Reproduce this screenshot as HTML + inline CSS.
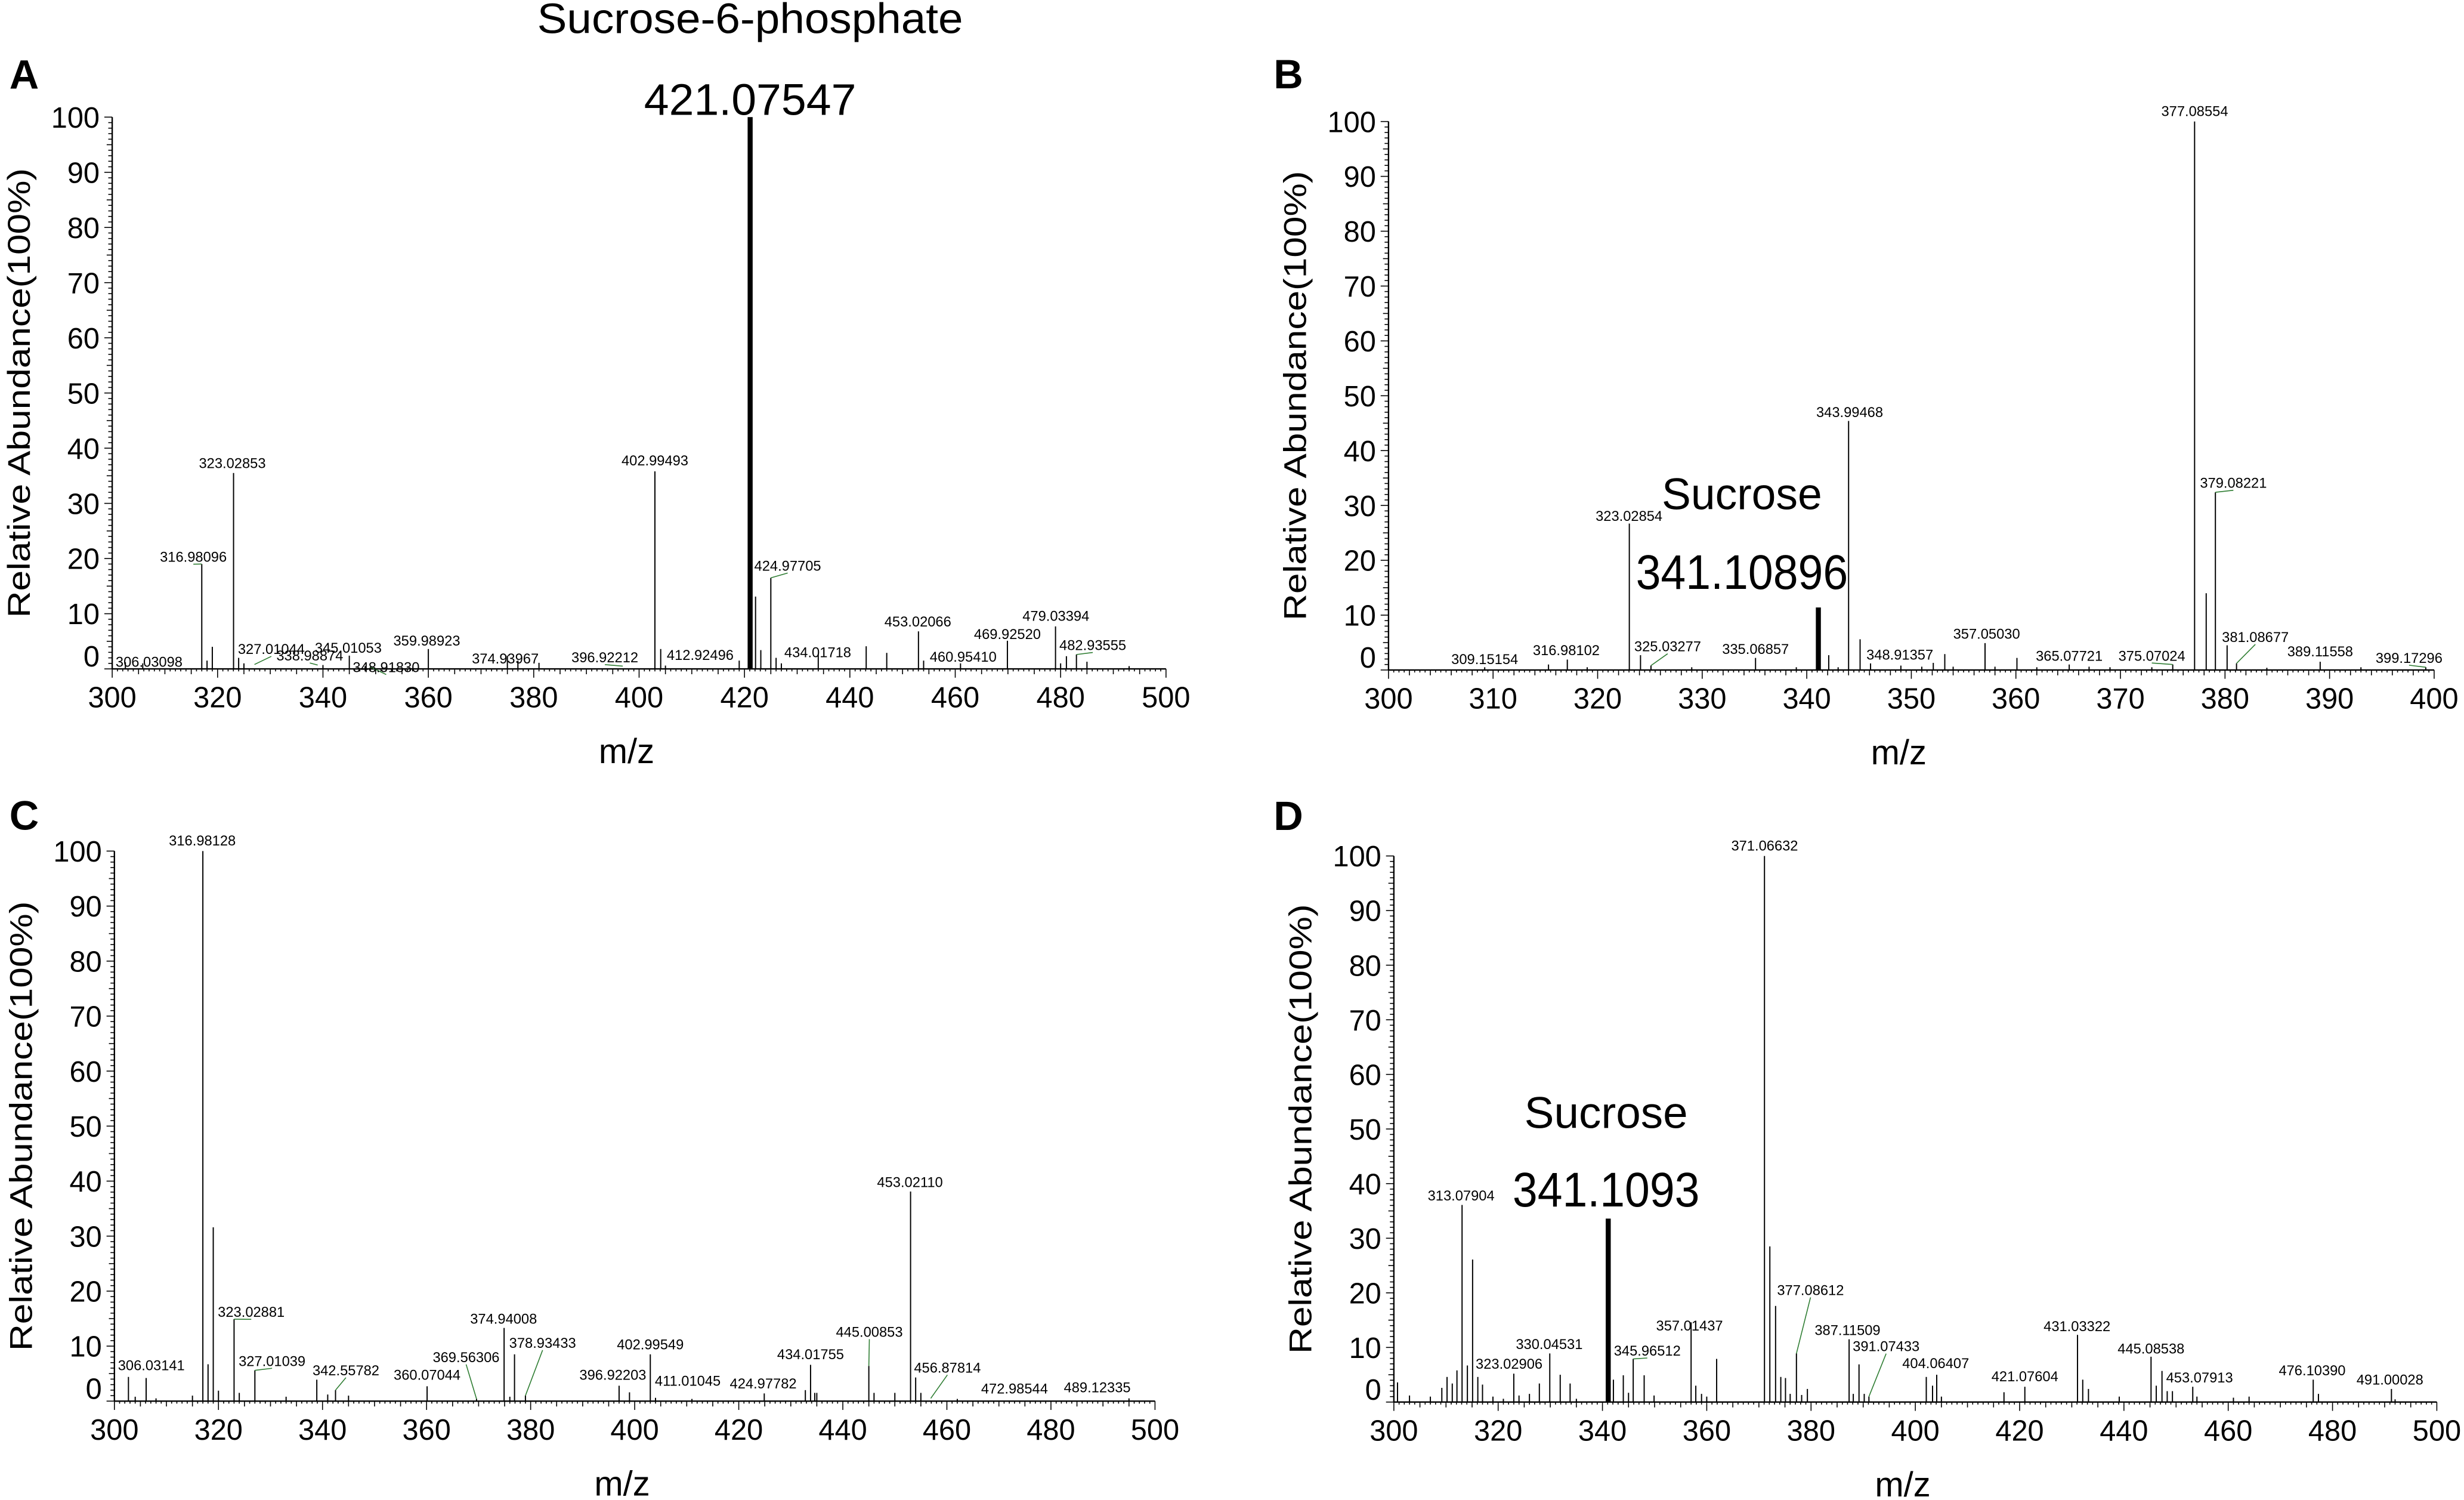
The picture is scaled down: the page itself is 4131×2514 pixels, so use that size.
<!DOCTYPE html>
<html><head><meta charset="utf-8">
<style>
html,body{margin:0;padding:0;background:#fff;}
svg{display:block;}
text{font-family:"Liberation Sans",Arial,sans-serif;fill:#000;}
</style></head>
<body>
<svg id="fig" xmlns="http://www.w3.org/2000/svg" width="4131" height="2514" viewBox="0 0 1568 954.2" preserveAspectRatio="none">
<rect x="0" y="0" width="1568" height="954.2" fill="#fff"/>
</svg>
<script>
// ---------- Panel A data ----------
const mzA  = [302.5,305.8,317.0,318.0,319.0,323.03,324.0,325.0,340.0,345.0,348.0,360.0,375.0,377.0,381.0,403.0,404.1,405.0,419.0,422.1,423.1,425.0,426.0,427.0,434.0,443.1,447.0,453.02,454.0,461.0,469.9,479.03,480.0,481.1,483.0,485.0,493.0];
const intA = [1.2,1.0,19,1.5,4.0,35.5,2.0,1.0,0.7,2.4,0.5,3.6,2.4,1.5,1.1,35.8,3.6,0.6,1.5,13.1,3.4,16.5,2.0,1.0,2.7,4.1,2.9,6.8,1.5,1.0,5.1,7.7,1.0,2.3,2.6,1.3,0.5];
const thickMzA = [421.07547];
const thickIntA = [100];
const labTextA = ["306.03098","316.98096","323.02853","327.01044","338.98874","345.01053","348.91830","359.98923","374.93967","396.92212","402.99493","412.92496","424.97705","434.01718","453.02066","460.95410","469.92520","479.03394","482.93555"];
const labMzA   = [307.0,315.4,322.8,330.2,337.5,344.8,352.0,359.7,374.6,393.5,403.0,411.6,428.2,433.9,452.9,461.5,469.9,479.1,486.1];
const labIntA  = [0.4,19.4,36.4,2.7,1.5,2.9,-0.6,4.2,1.0,1.2,36.9,1.6,17.8,2.1,7.7,1.3,5.4,8.7,3.4];
const peakOfLabA = [306.0,316.98,323.03,327.0,339.0,345.0,348.9,360.0,375.0,396.9,403.0,412.9,425.0,434.0,453.02,461.0,469.9,479.03,483.0];
const peakIntOfLabA = [0.6,19,35.5,0.8,0.7,2.4,0.4,3.6,2.4,0.5,35.8,0.5,16.5,2.7,6.8,1.0,5.1,7.7,2.6];

// ---------- Panel B data ----------
const mzB  = [309.2,315.3,317.1,319.0,323.03,324.1,325.1,329.0,335.1,339.0,342.1,343.0,344.0,345.1,346.1,349.0,351.0,352.1,353.2,354.0,357.05,358.0,360.1,362.0,365.1,367.0,369.0,373.0,375.0,377.09,378.2,379.08,380.2,381.1,384.0,389.1,393.0,399.2];
const intB = [0.5,1.0,1.9,0.5,26.7,2.7,0.8,0.5,2.2,0.5,2.7,0.5,45.4,5.6,1.2,0.8,0.6,1.3,2.9,0.6,4.9,0.6,2.2,0.5,1.0,0.6,0.5,0.5,1.0,100,14,32.4,4.5,1.2,0.4,1.5,0.5,0.5];
const thickMzB = [341.10896];
const thickIntB = [11.4];
const labTextB = ["309.15154","316.98102","323.02854","325.03277","335.06857","343.99468","348.91357","357.05030","365.07721","375.07024","377.08554","379.08221","381.08677","389.11558","399.17296"];
const labMzB   = [309.2,317.0,323.0,326.7,335.1,344.1,348.9,357.2,365.1,373.0,377.1,380.8,382.9,389.1,397.6];
const labIntB  = [1.1,2.7,27.2,3.4,2.9,46.1,1.9,5.7,1.7,1.7,101,33.2,5.1,2.5,1.3];
const peakOfLabB = [309.2,317.1,323.03,325.1,335.1,344.0,348.9,357.05,365.1,375.0,377.09,379.08,381.1,389.1,399.2];
const peakIntOfLabB = [0.5,1.9,26.7,0.8,2.2,45.4,0.8,4.9,1.0,1.0,100,32.4,1.2,1.5,0.5];

// ---------- Panel C data ----------
const mzC  = [302.7,304.0,306.1,308.0,315.0,317.0,318.0,319.0,320.0,323.0,324.0,327.0,333.0,338.9,341.0,342.5,345.0,360.1,369.6,374.9,376.0,376.9,379.0,397.0,399.0,403.0,404.0,411.0,424.9,432.8,433.8,434.6,435.0,445.0,446.0,450.0,453.02,454.0,455.0,462.0,495.0];
const intC = [4.4,0.8,4.2,0.5,1.0,100,6.7,31.6,1.9,14.9,1.5,5.6,0.8,3.9,1.2,2.0,1.0,2.7,0.4,13.3,0.8,8.5,1.0,2.8,1.6,8.5,0.6,0.4,1.4,2.0,6.6,1.5,1.5,6.4,1.5,1.5,38.1,4.3,1.5,0.4,0.5];
const thickMzC = [];
const thickIntC = [];
const labTextC = ["306.03141","316.98128","323.02881","327.01039","342.55782","360.07044","369.56306","374.94008","378.93433","396.92203","402.99549","411.01045","424.97782","434.01755","445.00853","453.02110","456.87814","472.98544","489.12335"];
const labMzC   = [307.1,316.9,326.3,330.3,344.5,360.1,367.6,374.8,382.3,395.8,403.0,410.2,424.7,433.8,445.1,452.9,460.1,473.0,488.9];
const labIntC  = [5.6,101,15.3,6.4,4.7,3.9,7.1,14.1,9.7,3.9,9.4,2.8,2.3,7.6,11.7,38.9,5.2,1.4,1.6];
const peakOfLabC = [306.1,317.0,323.0,327.0,342.5,360.1,369.6,374.9,379.0,397.0,403.0,411.0,424.9,433.8,445.0,453.02,456.9,473.0,489.1];
const peakIntOfLabC = [4.2,100,14.9,5.6,2.0,2.7,0.4,13.3,1.0,2.8,8.5,0.4,1.4,6.6,6.4,38.1,0.5,0.3,0.3];

// ---------- Panel D data ----------
const mzD  = [300.7,303.0,307.0,309.2,310.2,311.2,312.1,313.08,314.1,315.1,316.1,317.0,319.0,321.0,323.0,324.0,326.0,327.9,329.9,331.9,333.8,335.0,342.1,344.0,345.0,345.9,348.0,349.9,357.0,357.9,359.0,360.0,361.9,371.07,372.1,373.2,374.2,375.1,376.0,377.2,378.2,379.3,387.3,388.1,389.2,390.2,391.1,402.1,403.3,404.1,405.0,417.0,421.0,431.1,432.1,433.2,439.1,445.2,446.2,447.3,448.3,449.3,453.2,454.0,461.0,464.0,476.3,477.3,491.3,492.0];
const intD = [3.6,1.2,1.0,2.6,4.6,3.4,5.8,36.1,6.7,26.1,4.6,3.2,1.0,0.6,5.2,1.2,1.5,3.4,8.9,5.0,3.4,0.6,4.1,4.9,1.7,7.9,4.9,1.2,14.6,3.0,1.5,1.0,7.9,100,28.5,17.6,4.6,4.4,1.5,8.9,1.3,2.4,11.5,1.5,6.9,1.5,1.0,4.6,3.0,5.0,1.0,1.8,2.8,12.3,4.1,2.4,1.0,8.3,3.0,5.7,2.0,2.0,2.8,1.0,0.8,1.0,4.1,1.5,2.4,0.5];
const thickMzD = [341.1093];
const thickIntD = [33.6];
const labTextD = ["313.07904","323.02906","330.04531","345.96512","357.01437","371.06632","377.08612","387.11509","391.07433","404.06407","421.07604","431.03322","445.08538","453.07913","476.10390","491.00028"];
const labMzD   = [312.9,322.1,329.8,348.6,356.7,371.1,379.9,387.0,394.4,403.9,421.0,431.0,445.2,454.5,476.1,491.0];
const labIntD  = [36.9,6.1,9.7,8.5,13.1,101,19.6,12.3,9.3,6.2,3.8,13.0,8.9,3.6,4.9,3.2];
const peakOfLabD = [313.08,323.0,329.9,345.9,357.0,371.07,377.2,387.3,391.1,404.1,421.0,431.1,445.2,453.2,476.3,491.3];
const peakIntOfLabD = [36.1,5.2,8.9,7.9,14.6,100,8.9,11.5,1.0,5.0,2.8,12.3,8.3,2.8,4.1,2.4];

const xTicksA = [300,320,340,360,380,400,420,440,460,480,500];
const xTicksB = [300,310,320,330,340,350,360,370,380,390,400];
const yTicks  = [0,10,20,30,40,50,60,70,80,90,100];

const NS = "http://www.w3.org/2000/svg";
const svg = document.getElementById('fig');
function mk(tag, attrs, parent){
  const e = document.createElementNS(NS, tag);
  for (const k in attrs) e.setAttribute(k, attrs[k]);
  (parent||svg).appendChild(e);
  return e;
}

function drawPanel(p){
  const g = mk('g', {});
  
  
  const sx = v => p.x0 + (v - p.xmin) / (p.xmax - p.xmin) * (p.x1 - p.x0);
  const sy = v => p.y0 - v / 100 * (p.y0 - p.y100);

  // panel letter
  const L = mk('text', {x:p.lx, y:p.ly, 'font-size':26, 'font-weight':'bold'}, g);
  L.textContent = p.id;
  
  

  // axes
  const ax = mk('g', {stroke:'#000', 'stroke-width':0.9, fill:'none'}, g);
  
  
  mk('line', {x1:p.x0, y1:p.y0, x2:p.x1, y2:p.y0}, ax);
  mk('line', {x1:p.x0, y1:p.y0, x2:p.x0, y2:p.y100}, ax);
  // y minor ticks
  for (let v = 0; v <= 100; v += 1){
    const y = sy(v);
    const len = (v % 10 === 0) ? 5 : (v % 5 === 0 ? 3.5 : 2.5);
    mk('line', {x1:p.x0 - len, y1:y, x2:p.x0, y2:y, 'stroke-width':0.6}, ax);
  }
  // x ticks
  const step = p.minor;
  for (let v = p.xmin; v <= p.xmax + 1e-6; v += step){
    const x = sx(v);
    const r = Math.round(v * 100) / 100;
    let len = 1.6;
    if (Math.abs(r % p.major) < 1e-6) len = 5.6;
    else if (Math.abs(r % p.mid) < 1e-6) len = 3.4;
    mk('line', {x1:x, y1:p.y0, x2:x, y2:p.y0 + len, 'stroke-width':0.6}, ax);
  }
  // tick labels
  p.xTicks.forEach(v => {
    const t = mk('text', {x:sx(v), y:p.y0 + 24.5, 'font-size':18.5, 'text-anchor':'middle'}, g);
    t.textContent = v;
    
    
  });
  yTicks.forEach(v => {
    const yy = (v === 0) ? sy(v) - 1.5 : sy(v) + 6.7;
    const t = mk('text', {x:p.x0 - 8, y:yy, 'font-size':18.5, 'text-anchor':'end'}, g);
    t.textContent = v;
    
    
  });
  // axis titles
  const xt = mk('text', {x:(p.x0 + p.x1)/2 - 8, y:p.y0 + 60, 'font-size':22, 'text-anchor':'middle'}, g);
  xt.textContent = 'm/z';
  
  
  const cy = (p.y0 + p.y100) / 2;
  const yt = mk('text', {x:0, y:0, 'font-size':20, 'text-anchor':'middle',
    textLength:286, lengthAdjust:'spacingAndGlyphs',
    transform:'translate(' + (p.x0 - 52.5) + ',' + cy + ') rotate(-90)'}, g);
  yt.textContent = 'Relative Abundance(100%)';
  
  

  // peaks
  const pk = mk('g', {stroke:'#000', 'stroke-width':0.75}, g);
  
  
  p.mz.forEach((m, i) => {
    const l = mk('line', {x1:sx(m), y1:p.y0, x2:sx(m), y2:sy(p.int[i])}, pk);
    
    
  });
  p.thickMz.forEach((m, i) => {
    const l = mk('line', {x1:sx(m), y1:p.y0, x2:sx(m), y2:sy(p.thickInt[i]), 'stroke-width':3.2}, pk);
    
    
  });

  // peak labels with leader lines
  p.labText.forEach((s, i) => {
    const lx = sx(p.labMz[i]), ly = sy(p.labInt[i]);
    const px = sx(p.peakOfLab[i]), py = sy(p.peakIntOfLab[i]);
    if (Math.abs(lx - px) > 5 || (ly - py) < -10){
      const ld = mk('line', {x1:px, y1:py, x2:lx, y2:ly + 1.5, stroke:'#2e7d32', 'stroke-width':0.6}, g);
      
      
    }
    const t = mk('text', {x:lx, y:ly, 'font-size':9, 'text-anchor':'middle'}, g);
    t.textContent = s;
    
    
  });

  // big annotations
  p.notes.forEach(n => {
    const t = mk('text', {x:sx(n[1]), y:sy(n[2]), 'font-size':n[3], 'text-anchor':'middle', textLength:n[4], lengthAdjust:'spacingAndGlyphs'}, g);
    t.textContent = n[0];
    
    
  });
}

drawPanel({id:'A', x0:71.4, x1:742, xmin:300, xmax:500, y0:425.5, y100:74.5, lx:6, ly:56.3,
  minor:1, mid:5, major:20, xTicks:xTicksA,
  mz:mzA, int:intA, thickMz:thickMzA, thickInt:thickIntA,
  labText:labTextA, labMz:labMzA, labInt:labIntA, peakOfLab:peakOfLabA, peakIntOfLab:peakIntOfLabA,
  notes:[["421.07547",421.07,100.4,28,135],["Sucrose-6-phosphate",421.07,115.2,27,271]]});
drawPanel({id:'B', x0:883.6, x1:1549, xmin:300, xmax:400, y0:426.2, y100:77.3, lx:810.5, ly:56.2,
  minor:0.5, mid:2, major:10, xTicks:xTicksB,
  mz:mzB, int:intB, thickMz:thickMzB, thickInt:thickIntB,
  labText:labTextB, labMz:labMzB, labInt:labIntB, peakOfLab:peakOfLabB, peakIntOfLab:peakIntOfLabB,
  notes:[["341.10896",333.8,14.8,31,135],["Sucrose",333.8,29.3,28,102]]});
drawPanel({id:'C', x0:72.8, x1:735, xmin:300, xmax:500, y0:891.3, y100:541.4, lx:6, ly:527.8,
  minor:1, mid:5, major:20, xTicks:xTicksA,
  mz:mzC, int:intC, thickMz:thickMzC, thickInt:thickIntC,
  labText:labTextC, labMz:labMzC, labInt:labIntC, peakOfLab:peakOfLabC, peakIntOfLab:peakIntOfLabC,
  notes:[]});
drawPanel({id:'D', x0:887, x1:1550.7, xmin:300, xmax:500, y0:891.9, y100:544.5, lx:810.5, ly:528,
  minor:1, mid:5, major:20, xTicks:xTicksA,
  mz:mzD, int:intD, thickMz:thickMzD, thickInt:thickIntD,
  labText:labTextD, labMz:labMzD, labInt:labIntD, peakOfLab:peakOfLabD, peakIntOfLab:peakIntOfLabD,
  notes:[["341.1093",340.7,35.8,31,119],["Sucrose",340.7,50.2,28,104]]});
</script>
</body></html>
